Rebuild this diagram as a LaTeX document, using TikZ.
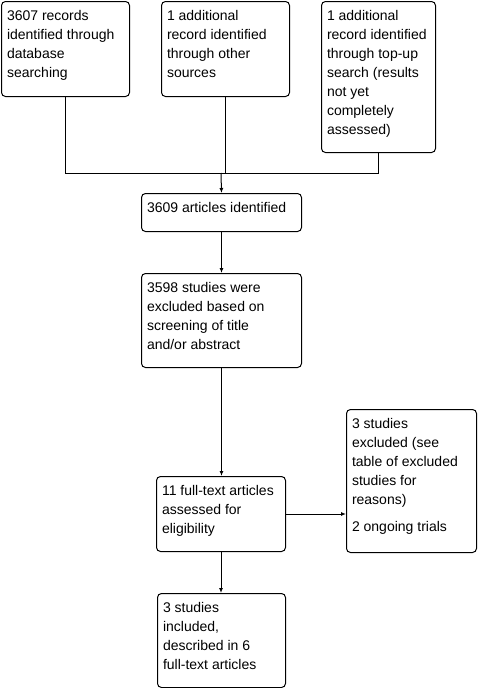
\documentclass[tikz,border=0pt]{standalone}
\usepackage{fontspec}
\setmainfont{Liberation Sans}
\usetikzlibrary{arrows.meta}
\newcommand\bxtext[3]{\begin{minipage}[t][#2pt][t]{#1pt}\raggedright\rule{0pt}{18.5pt}#3\end{minipage}}
\tikzset{
  box/.style={draw, rounded corners=4pt, anchor=north west, inner xsep=5.5pt, inner ysep=0pt,
    line width=1pt, font=\fontsize{14pt}{19pt}\selectfont},
  conn/.style={line width=1pt},
  arr/.style={line width=1pt, -{Latex[length=5pt,width=4pt]}}
}
\begin{document}
\begin{tikzpicture}[x=1pt,y=-1pt]
\useasboundingbox (0,0) rectangle (477,688);
\node[box] (A) at (1,1) {\bxtext{117}{95}{3607 records\\identified through\\database\\searching}};
\node[box] (B) at (161,1) {\bxtext{117}{95}{1 additional\\record identified\\through other\\sources}};
\node[box] (C) at (321,1) {\bxtext{103}{151}{1 additional\\record identified\\through top-up\\search (results\\not yet\\completely\\assessed)}};
\node[box] (D) at (141,193) {\bxtext{149}{38}{3609 articles identified}};
\node[box] (E) at (141,273) {\bxtext{149}{94}{3598 studies were\\excluded based on\\screening of title\\and/or abstract}};
\node[box] (F) at (156,476) {\bxtext{118}{75}{11 full-text articles\\assessed for\\eligibility}};
\node[box] (G) at (346,409) {\bxtext{119}{143}{3 studies\\excluded (see\\table of excluded\\studies for\\reasons)\par\vspace{8pt}2 ongoing trials}};
\node[box] (H) at (157,593) {\bxtext{117}{94}{3 studies\\included,\\described in 6\\full-text articles}};
\coordinate (M) at (221,173);
\draw[conn] (A.south) |- (M);
\draw[conn] (B.south) -- (B.south |- M);
\draw[conn] (C.south) |- (M);
\draw[arr] (M) -- (D.north);
\draw[arr] (D.south) -- (D.south |- E.north);
\draw[arr] (E.south) -- (E.south |- F.north);
\draw[arr] (F.east) -- (F.east -| G.west);
\draw[arr] (F.south) -- (F.south |- H.north);
\end{tikzpicture}
\end{document}
